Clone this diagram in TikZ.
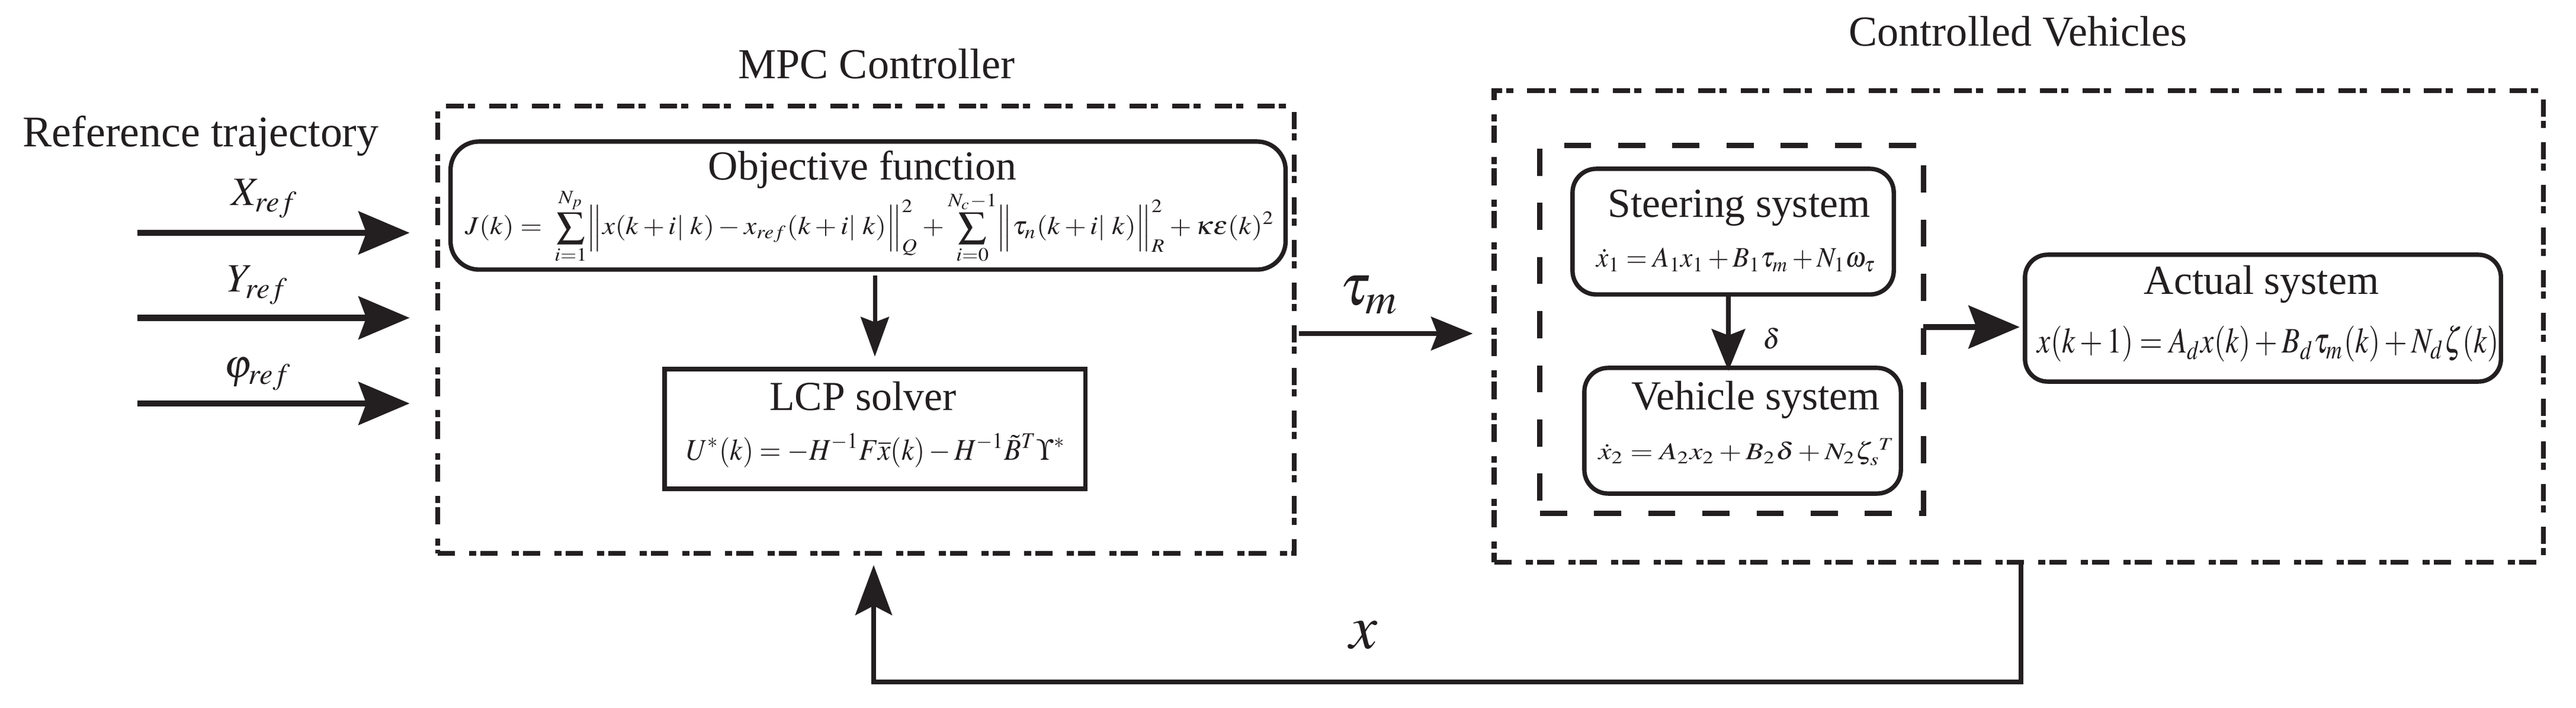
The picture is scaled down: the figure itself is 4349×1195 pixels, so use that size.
\documentclass[tikz,border=0pt]{standalone}
\usepackage{mathptmx}
\usepackage[no-math]{fontspec}
\setmainfont{Liberation Serif}
\usepackage{graphicx}
\usetikzlibrary{arrows.meta,calc}
\definecolor{ink}{HTML}{231F20}
\newcommand{\eqfit}[3]{\resizebox{#1}{#2}{$\displaystyle #3$}}
\begin{document}
\begin{tikzpicture}[x=0.01cm,y=-0.01cm,
  box/.style={draw=ink, line width=2.1pt, inner sep=0pt, outer sep=0pt},
  ddot/.style={draw=ink, line width=2.3pt, inner sep=0pt, outer sep=0pt, dash pattern=on 8.3pt off 6.8pt on 3.4pt off 2pt},
  dsh/.style={draw=ink, line width=2.6pt, inner sep=0pt, outer sep=0pt, dash pattern=on 13pt off 13pt},
  ttl/.style={font=\fontsize{19.8pt}{24pt}\selectfont, inner sep=0pt, anchor=base, text=ink},
  big/.style={font=\fontsize{20.5pt}{24pt}\selectfont, inner sep=0pt, anchor=base, text=ink},
  eqn/.style={inner sep=0pt, anchor=base west, text=ink},
  lbl/.style={font=\fontsize{19.3pt}{23pt}\selectfont, inner sep=0pt, anchor=base west, text=ink},
  tipbig/.style={draw=ink, line width=2.85pt, -{Stealth[length=24.5pt,width=20.5pt,inset=3.7pt]}},
  tipmid/.style={draw=ink, line width=2.3pt, -{Stealth[length=20pt,width=16pt,inset=3pt]}},
  tipsmall/.style={draw=ink, line width=2pt, -{Stealth[length=19pt,width=13.5pt,inset=2.5pt]}},
  tipfb/.style={draw=ink, line width=2.2pt, -{Stealth[length=24pt,width=17.6pt,inset=4.5pt]}}
]
\useasboundingbox (0,0) rectangle (4349,1195);

% ---------- titles ----------
\node[big] (reftitle) at (339,248) {\fontsize{21pt}{24pt}\selectfont Reference trajectory};
\node[big] (mpctitle) at (1480,133) {MPC Controller};
\node[big] (ctrltitle) at (3407,78) {Controlled Vehicles};

% ---------- MPC controller ----------
\node[ddot, minimum width=14.46cm, minimum height=7.545cm] (mpc) at (1462,556.25) {};
\node[box, rounded corners=0.48cm, minimum width=14.09cm, minimum height=2.16cm] (obj) at (1465.5,347) {};
\node[box, minimum width=7.10cm, minimum height=2.02cm] (lcp) at (1477,724) {};

\node[ttl] (objt) at (1456,304) {Objective function};
\node[eqn] (objeq) at (785,396) {\eqfit{13.65cm}{0.77cm}{J(k)=\;\sum_{i=1}^{N_p}\Bigl\|x(k+i|\;k)-x_{ref}(k+i|\;k)\Bigr\|_Q^2+\sum_{i=0}^{N_c-1}\Bigl\|\tau_n(k+i|\;k)\Bigr\|_R^2+\kappa\varepsilon(k)^2}};
\node[ttl] (lcpt) at (1457,693) {LCP solver};
\node[eqn] (lcpeq) at (1158,777) {\eqfit{6.40cm}{0.46cm}{U^{*}(k)=-H^{-1}F\overline{x}(k)-H^{-1}\tilde{B}^{T}\Upsilon^{*}}};

% ---------- Controlled vehicles ----------
\node[ddot, minimum width=17.70cm, minimum height=7.96cm] (ctrl) at (3408,551) {};
\node[dsh, minimum width=6.47cm, minimum height=6.20cm] (inner) at (2923.5,556) {};
\node[box, rounded corners=0.40cm, minimum width=5.42cm, minimum height=2.12cm] (steer) at (2926,391) {};
\node[box, rounded corners=0.40cm, minimum width=5.34cm, minimum height=2.12cm] (veh) at (2942,727) {};
\node[box, rounded corners=0.38cm, minimum width=8.03cm, minimum height=2.14cm] (act) at (3820.5,537) {};

\node[ttl] (steert) at (2936,367) {Steering system};
\node[eqn] (steereq) at (2695,451) {\eqfit{4.71cm}{0.32cm}{\dot{x}_1=A_1x_1+B_1\tau_m+N_1\omega_\tau}};
\node[ttl] (veht) at (2964,692) {Vehicle system};
\node[eqn] (veheq) at (2698,776) {\eqfit{5.00cm}{0.36cm}{\dot{x}_2=A_2x_2+B_2\delta+N_2\zeta_s^{\;T}}};
\node[ttl] (actt) at (3818,497) {Actual system};
\node[eqn] (acteq) at (3439,596) {\eqfit{7.79cm}{0.46cm}{x(k+1)=A_dx(k)+B_d\tau_m(k)+N_d\zeta(k)}};

% ---------- input arrows ----------
\coordinate (in1) at (232,393);
\coordinate (in2) at (232,536.5);
\coordinate (in3) at (232,681);
\draw[tipbig, shorten >=0.47cm] (in1) -- (mpc.west |- in1);
\draw[tipbig, shorten >=0.47cm] (in2) -- (mpc.west |- in2);
\draw[tipbig, shorten >=0.47cm] (in3) -- (mpc.west |- in3);
\node[lbl] (xref) at (390,347) {$X_{ref}$};
\node[lbl] (yref) at (383,493) {$Y_{ref}$};
\node[lbl] (pref) at (378,638) {$\varphi_{ref}$};

% ---------- internal arrows ----------
\draw[tipsmall, shorten <=0.10cm, shorten >=0.21cm] (obj.south -| lcp.north) -- (lcp.north);

\coordinate (tauy) at (0,563);
\draw[tipmid, shorten <=0.08cm, shorten >=0.36cm] (mpc.east |- tauy) -- (ctrl.west |- tauy);
\node[inner sep=0pt, anchor=base west, text=ink, font=\fontsize{28pt}{30pt}\selectfont] (taum) at (2262,515) {$\tau_m$};

\coordinate (dx) at (2918,0);
\draw[tipmid, shorten >=-0.05cm] (steer.south -| dx) -- (veh.north -| dx);
\node[inner sep=0pt, anchor=base west, text=ink, font=\fontsize{13.4pt}{15pt}\selectfont] (dlt) at (2976,589) {$\delta$};

\coordinate (ay) at (0,552);
\draw[tipbig, shorten >=0.09cm] (inner.east |- ay) -- (act.west |- ay);

% ---------- feedback ----------
\coordinate (fbx) at (3412,0);
\coordinate (fbl) at (1475,1151);
\draw[tipfb, shorten >=0.20cm] (ctrl.south -| fbx) |- (fbl) -- (mpc.south -| fbl);
\node[inner sep=0pt, anchor=base west, text=ink, font=\fontsize{30pt}{32pt}\selectfont] (xfb) at (2278,1094) {$x$};
\end{tikzpicture}
\end{document}
